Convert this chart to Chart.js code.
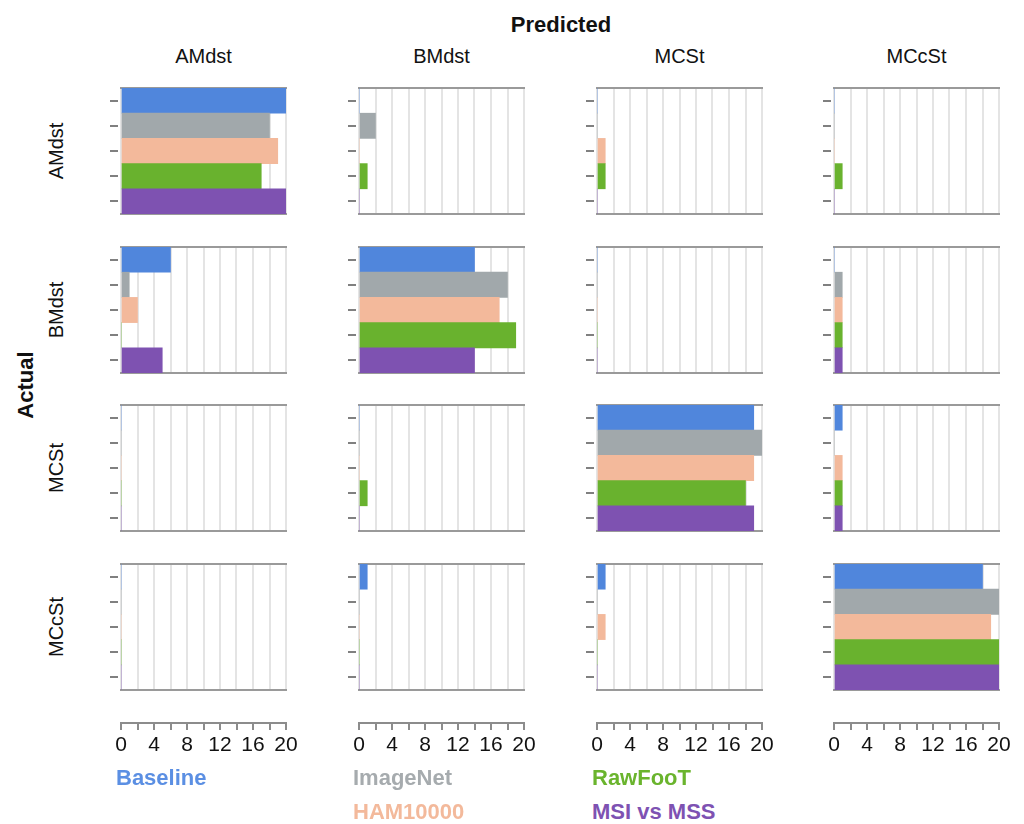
<!DOCTYPE html>
<html>
<head>
<meta charset="utf-8">
<script src="https://cdn.jsdelivr.net/npm/chart.js@4.4.0/dist/chart.umd.min.js"></script>
<style>
  html, body { margin: 0; padding: 0; background: #fff; }
  #page { position: relative; width: 1024px; height: 824px; overflow: hidden;
          font-family: 'Liberation Sans', Arial, sans-serif; }
  .cell { position: absolute; }
  .txt { position: absolute; white-space: nowrap; color: #111; }
</style>
</head>
<body>
<div id="page"></div>
<script>
// Class names (rows = actual, columns = predicted)
const classNames = ['AMdst', 'BMdst', 'MCSt', 'MCcSt'];
// Models compared in every cell, drawn top to bottom
const modelNames = ['Baseline', 'ImageNet', 'HAM10000', 'RawFooT', 'MSI vs MSS'];
const barColors = ['#5086dc', '#a1a8ab', '#f3b99b', '#69b22e', '#7e52b1'];
const legendColors = ['#5b8fe3', '#a6abae', '#f3b99b', '#6ab42d', '#7e52b2'];

// Confusion counts per model: [actual][predicted]
const baselineCounts = [[20, 0, 0, 0], [6, 14, 0, 0], [0, 0, 19, 1], [0, 1, 1, 18]];
const imagenetCounts = [[18, 2, 0, 0], [1, 18, 0, 1], [0, 0, 20, 0], [0, 0, 0, 20]];
const ham10000Counts = [[19, 0, 1, 0], [2, 17, 0, 1], [0, 0, 19, 1], [0, 0, 1, 19]];
const rawfootCounts  = [[17, 1, 1, 1], [0, 19, 0, 1], [0, 1, 18, 1], [0, 0, 0, 20]];
const msiMssCounts   = [[20, 0, 0, 0], [5, 14, 0, 1], [0, 0, 19, 1], [0, 0, 0, 20]];

// Count axis
const countMax = 20;
const countStep = 2;
const countTickLabels = [0, 4, 8, 12, 16, 20];

const modelCounts = [baselineCounts, imagenetCounts, ham10000Counts, rawfootCounts, msiMssCounts];

// ---- layout ----
const FONT = "'Liberation Sans', Arial, sans-serif";
const colLeft = [121, 359, 597, 834];
const rowTop = [88, 247, 405, 564];
const plotW = 165;
const plotH = 126;
const tickLen = 11;   // y tick marks, incl. small gap to the plot
const pad = 3;
const axisTop = 700;  // bottom count axes: chart area top
const axisLineY = 723;

const page = document.getElementById('page');

function addText(str, opts) {
  const d = document.createElement('div');
  d.className = 'txt';
  d.textContent = str;
  Object.assign(d.style, opts);
  page.appendChild(d);
  return d;
}

function makeCanvas(left, top, w, h) {
  const c = document.createElement('canvas');
  c.className = 'cell';
  c.width = w; c.height = h;
  c.style.left = left + 'px'; c.style.top = top + 'px';
  c.style.width = w + 'px'; c.style.height = h + 'px';
  page.appendChild(c);
  return c;
}

Chart.defaults.font.family = FONT;

// ---- the 4x4 grid of bar panels ----
for (let r = 0; r < classNames.length; r++) {
  for (let c = 0; c < classNames.length; c++) {
    const values = modelCounts.map(m => m[r][c]);
    const w = tickLen + plotW + pad;
    const h = pad + plotH + pad;
    const canvas = makeCanvas(colLeft[c] - tickLen, rowTop[r] - pad, w, h);
    new Chart(canvas, {
      type: 'bar',
      data: {
        labels: modelNames,
        datasets: [{
          data: values,
          backgroundColor: barColors,
          borderWidth: 0,
          barPercentage: 1,
          categoryPercentage: 1
        }]
      },
      options: {
        indexAxis: 'y',
        responsive: false,
        animation: false,
        events: [],
        layout: { padding: { left: 0, right: pad, top: pad, bottom: pad } },
        plugins: { legend: { display: false }, tooltip: { enabled: false } },
        scales: {
          x: {
            type: 'linear', position: 'bottom', min: 0, max: countMax, offset: false,
            ticks: { display: false, stepSize: countStep, autoSkip: false },
            grid: { color: '#e4e4e4', lineWidth: 2, drawTicks: false, offset: false },
            border: { color: '#9a9a9a', width: 2 }
          },
          xTop: {
            type: 'linear', axis: 'x', position: 'top', min: 0, max: countMax, offset: false,
            ticks: { display: false },
            grid: { display: false, drawTicks: false },
            border: { color: '#9a9a9a', width: 2 }
          },
          y: {
            type: 'category', position: 'left',
            ticks: { display: false },
            grid: { offset: false, drawOnChartArea: false, drawTicks: true,
                    tickLength: tickLen, color: '#808080', lineWidth: 2 },
            border: { display: true, width: 6, color: 'rgba(0,0,0,0)' }
          }
        }
      }
    });
  }
}

// ---- count axes under each column ----
for (let c = 0; c < classNames.length; c++) {
  const side = 15;
  const axisH = 45;
  const canvas = makeCanvas(colLeft[c] - side, axisTop, plotW + 2 * side, (axisLineY - axisTop) + axisH);
  new Chart(canvas, {
    type: 'bar',
    data: { labels: [], datasets: [] },
    options: {
      responsive: false,
      animation: false,
      events: [],
      layout: { padding: { left: side, right: side, top: 0, bottom: 0 } },
      plugins: { legend: { display: false }, tooltip: { enabled: false } },
      scales: {
        x: {
          type: 'linear', position: 'bottom', min: 0, max: countMax, offset: false,
          afterFit: s => { s.height = axisH; },
          ticks: {
            stepSize: countStep, autoSkip: false, maxRotation: 0, minRotation: 0,
            padding: 3, color: '#111', font: { family: FONT, size: 21 },
            callback: v => countTickLabels.includes(v) ? String(v) : ''
          },
          grid: { drawOnChartArea: false, tickLength: 7, color: '#8c8c8c', lineWidth: 2, offset: false },
          border: { color: '#8c8c8c', width: 2 }
        },
        y: { display: false }
      }
    }
  });
}

// ---- titles ----
addText('Predicted', { left: '561px', top: '14px', transform: 'translateX(-50%)',
  font: `bold 22px ${FONT}`, lineHeight: '22px' });

classNames.forEach((name, c) => {
  addText(name, { left: (colLeft[c] + plotW / 2) + 'px', top: '46px', transform: 'translateX(-50%)',
    font: `20px ${FONT}`, lineHeight: '20px' });
});

// row labels, rotated
classNames.forEach((name, r) => {
  const cy = rowTop[r] + plotH / 2;
  const d = addText(name, { font: `20px ${FONT}`, lineHeight: '20px', height: '20px',
    width: '120px', textAlign: 'center' });
  d.style.left = (56 - 60) + 'px';
  d.style.top = (cy - 10) + 'px';
  d.style.transform = 'rotate(-90deg)';
});

{
  const d = addText('Actual', { font: `bold 22px ${FONT}`, lineHeight: '22px', height: '22px',
    width: '120px', textAlign: 'center' });
  d.style.left = (26 - 60) + 'px';
  d.style.top = (385 - 11) + 'px';
  d.style.transform = 'rotate(-90deg)';
}

// ---- model key ----
const keySpots = [[116, 767], [353, 767], [353, 801], [592, 767], [592, 801]];
modelNames.forEach((name, i) => {
  addText(name, { left: keySpots[i][0] + 'px', top: keySpots[i][1] + 'px',
    font: `bold 22px ${FONT}`, lineHeight: '22px', color: legendColors[i] });
});
</script>
</body>
</html>
